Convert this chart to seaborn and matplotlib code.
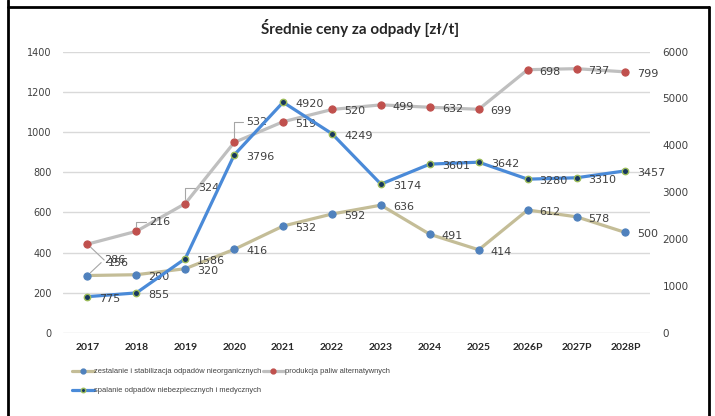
import matplotlib
matplotlib.use('Agg')
import matplotlib.pyplot as plt
import seaborn as sns
from matplotlib.lines import Line2D

# Dane: srednie ceny za odpady [zl/t]
years = ['2017', '2018', '2019', '2020', '2021', '2022', '2023', '2024', '2025',
         '2026P', '2027P', '2028P']
zestalanie = [286, 290, 320, 416, 532, 592, 636, 491, 414, 612, 578, 500]
paliwa = [156, 216, 324, 532, 519, 520, 499, 632, 699, 698, 737, 799]
spalanie = [775, 855, 1586, 3796, 4920, 4249, 3174, 3601, 3642, 3280, 3310, 3457]

names = ['zestalanie i stabilizacja odpadów nieorganicznych',
         'produkcja paliw alternatywnych',
         'spalanie odpadów niebezpiecznych i medycznych']

# stacked line like in the Excel original: paliwa sits on top of zestalanie
paliwa_stack = [z + p for z, p in zip(zestalanie, paliwa)]

tan, grey, blue = '#C4BD97', '#BFBFBF', '#4A8AD8'
dot_blue, dot_red, dot_navy, dot_green = '#4F81BD', '#C0504D', '#17375E', '#9BBB59'
txt = '#404040'

sns.set_theme(style='white')
plt.rcParams['font.family'] = ['DejaVu Sans']

fig, ax = plt.subplots(figsize=(7.15, 4.16), dpi=100)
fig.subplots_adjust(left=0.0881, right=0.909, bottom=0.1995, top=0.876)
ax2 = ax.twinx()

sns.lineplot(x=years, y=zestalanie, ax=ax, color=tan, linewidth=2.3, marker='o',
             markersize=5.2, markerfacecolor=dot_blue, markeredgecolor=dot_blue, zorder=2)
sns.lineplot(x=years, y=paliwa_stack, ax=ax, color=grey, linewidth=2.3, marker='o',
             markersize=5.2, markerfacecolor=dot_red, markeredgecolor=dot_red, zorder=3)
sns.lineplot(x=years, y=spalanie, ax=ax2, color=blue, linewidth=2.3, marker='o',
             markersize=4.6, markerfacecolor=dot_navy, markeredgecolor=dot_green,
             markeredgewidth=1.0, zorder=3)

ax.set_xlim(-0.5, len(years) - 0.5)
ax.set_ylim(0, 1400)
ax.set_yticks(range(0, 1401, 200))
ax2.set_ylim(0, 6000)
ax2.set_yticks(range(0, 6001, 1000))
ax.yaxis.grid(True, color='#D9D9D9', linewidth=1)
ax.xaxis.grid(False)
ax2.grid(False)
for a in (ax, ax2):
    a.set_xlabel('')
    a.set_ylabel('')
    for s in a.spines.values():
        s.set_visible(False)
    a.tick_params(length=0)

ax.tick_params(axis='y', labelsize=7, labelcolor=txt, pad=8)
ax2.tick_params(axis='y', labelsize=7.5, labelcolor=txt, pad=9)
ax.tick_params(axis='x', pad=7)
for lab in ax.get_xticklabels():
    lab.set_family('Lato')
    lab.set_fontweight('bold')
    lab.set_fontsize(7.5)
    lab.set_color('#262626')

# data labels
lead = dict(arrowstyle='-', color='#A6A6A6', lw=0.8, shrinkA=0, shrinkB=3,
            relpos=(0, 0.5), connectionstyle='angle,angleA=0,angleB=90,rad=0')
lead_straight = dict(lead, connectionstyle='arc3')

def label(axis, i, y, text, off=(12, -2), arrow=None):
    axis.annotate(text, (i, y), xytext=off, textcoords='offset pixels',
                  ha='left', va='center', fontsize=8, color=txt, arrowprops=arrow,
                  zorder=5)

for i, v in enumerate(zestalanie):
    if i == 0:
        label(ax, i, v, str(v), off=(17, 16), arrow=lead_straight)
    else:
        label(ax, i, v, str(v))

moved = {0: (20, -19), 1: (13, 9), 2: (13, 16), 3: (12, 20)}
for i, (v, y) in enumerate(zip(paliwa, paliwa_stack)):
    if i in moved:
        label(ax, i, y, str(v), off=moved[i],
              arrow=lead_straight if i == 0 else lead)
    else:
        label(ax, i, y, str(v))

for i, v in enumerate(spalanie):
    label(ax2, i, v, str(v))

fig.text(0.503, 1 - 28 / 416, 'Średnie ceny za odpady [zł/t]', ha='center', va='center',
         fontsize=11, fontweight='bold', family='Lato', color='#262626')

handles = [
    Line2D([], [], color=tan, lw=2.3, marker='o', ms=3.5, mfc=dot_blue, mec=dot_blue),
    Line2D([], [], color=blue, lw=2.3, marker='o', ms=3.2, mfc=dot_navy, mec=dot_green),
    Line2D([], [], color=grey, lw=2.3, marker='o', ms=3.5, mfc=dot_red, mec=dot_red),
]
fig.legend(handles, [names[0], names[2], names[1]], ncol=2, loc='upper left',
           bbox_to_anchor=(72 / 715, 1 - 368 / 416), frameon=False,
           prop={'family': 'Liberation Sans', 'size': 5.4},
           handlelength=2.9, handletextpad=0.1, columnspacing=0.1,
           borderpad=0, borderaxespad=0, labelspacing=1.6, labelcolor=txt)

# table cell border around the chart
for xs, ys in [((8, 8), (0, 416)), ((8, 709), (7, 7)), ((709, 709), (7, 416))]:
    fig.add_artist(Line2D([x / 715 for x in xs], [1 - y / 416 for y in ys],
                          color='black', lw=2, transform=fig.transFigure))

plt.savefig('out.png', dpi=100)
